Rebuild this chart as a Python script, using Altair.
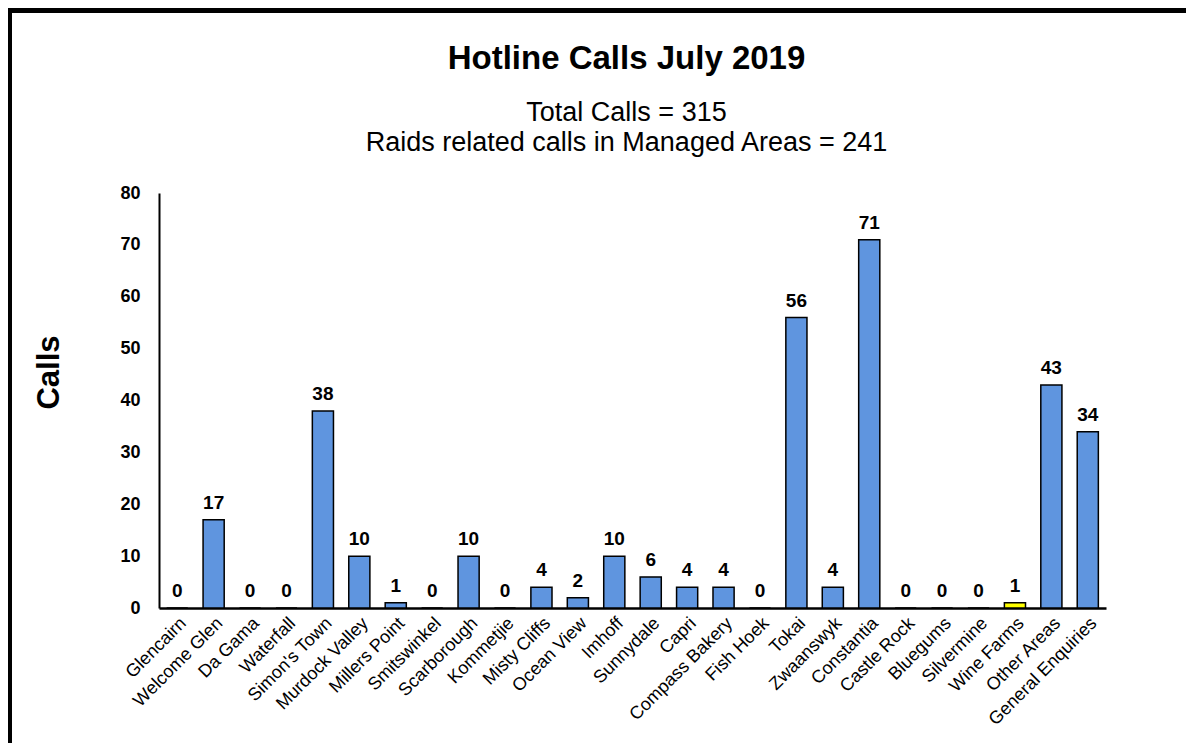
import altair as alt
import pandas as pd

areas = ["Glencairn", "Welcome Glen", "Da Gama", "Waterfall", "Simon's Town",
         "Murdock Valley", "Millers Point", "Smitswinkel", "Scarborough", "Kommetjie",
         "Misty Cliffs", "Ocean View", "Imhoff", "Sunnydale", "Capri",
         "Compass Bakery", "Fish Hoek", "Tokai", "Zwaanswyk", "Constantia",
         "Castle Rock", "Bluegums", "Silvermine", "Wine Farms", "Other Areas",
         "General Enquiries"]
calls = [0, 17, 0, 0, 38, 10, 1, 0, 10, 0, 4, 2, 10, 6, 4, 4, 0, 56, 4, 71,
         0, 0, 0, 1, 43, 34]
fills = ["#5F95DF"] * 23 + ["#FFFF00"] + ["#5F95DF"] * 2
y_ticks = [0, 10, 20, 30, 40, 50, 60, 70, 80]

title_text = "Hotline Calls July 2019"
subtitle_lines = ["Total Calls = 315", "Raids related calls in Managed Areas = 241"]

df = pd.DataFrame({"area": areas, "calls": calls, "fill": fills})
one = pd.DataFrame({"k": [0]})

W, H = 947, 415
PL, PT, PR, PB = 151, 185, 80, 135
FONT = "Liberation Sans"
CX = W / 2 - 6

x_enc = alt.X(
    "area:N", sort=areas, title=None,
    scale=alt.Scale(paddingInner=0.42, paddingOuter=0.21),
    axis=alt.Axis(labelAngle=-45, labelAlign="right", labelBaseline="top",
                  labelFontSize=18, labelFont=FONT, labelColor="black",
                  domainColor="black", domainWidth=2.5, ticks=False,
                  labelPadding=6, labelOverlap=False),
)
y_enc = alt.Y(
    "calls:Q",
    scale=alt.Scale(domain=[0, 80], nice=False),
    axis=alt.Axis(values=y_ticks, title="Calls", grid=False, ticks=False, tickSize=0,
                  labelPadding=19, labelFontSize=18, labelFontWeight="bold",
                  labelFont=FONT, labelColor="black",
                  domainColor="black", domainWidth=2,
                  titleFont=FONT, titleFontSize=31, titleFontWeight="bold",
                  titleColor="black", titleAngle=-90, titleX=-110, titleY=179,
                  titleAlign="center", titleBaseline="middle"),
)

bars = alt.Chart(df).mark_bar(stroke="black", strokeWidth=1.5).encode(
    x=x_enc, y=y_enc, fill=alt.Fill("fill:N", scale=None)
)
labels = alt.Chart(df).mark_text(
    dy=-11, baseline="alphabetic", fontSize=19, fontWeight="bold", font=FONT, color="black"
).encode(x=alt.X("area:N", sort=areas), y=alt.Y("calls:Q"), text="calls:Q")

title_mark = alt.Chart(one).mark_text(
    font=FONT, fontSize=33, fontWeight="bold", color="black",
    align="center", baseline="alphabetic"
).encode(x=alt.value(CX), y=alt.value(-124), text=alt.value(title_text))
sub1 = alt.Chart(one).mark_text(
    font=FONT, fontSize=27, color="black", align="center", baseline="alphabetic"
).encode(x=alt.value(CX), y=alt.value(-72), text=alt.value(subtitle_lines[0]))
sub2 = alt.Chart(one).mark_text(
    font=FONT, fontSize=27, color="black", align="center", baseline="alphabetic"
).encode(x=alt.value(CX), y=alt.value(-42), text=alt.value(subtitle_lines[1]))

frame_top = alt.Chart(one).mark_rule(color="black", strokeWidth=5).encode(
    x=alt.value(-PL), x2=alt.value(W + PR), y=alt.value(-PT + 2.5)
)
frame_left = alt.Chart(one).mark_rule(color="black", strokeWidth=5).encode(
    x=alt.value(-PL + 1.5), y=alt.value(-PT), y2=alt.value(H + PB)
)

chart = alt.layer(bars, labels, title_mark, sub1, sub2, frame_top, frame_left).properties(
    width=W, height=H,
    autosize=alt.AutoSizeParams(type="none"),
    padding={"left": PL, "top": PT, "right": PR, "bottom": PB},
).configure(background="white", view=alt.ViewConfig(stroke=None))

chart.save("out.html", embed_options={"renderer": "svg", "actions": False})
